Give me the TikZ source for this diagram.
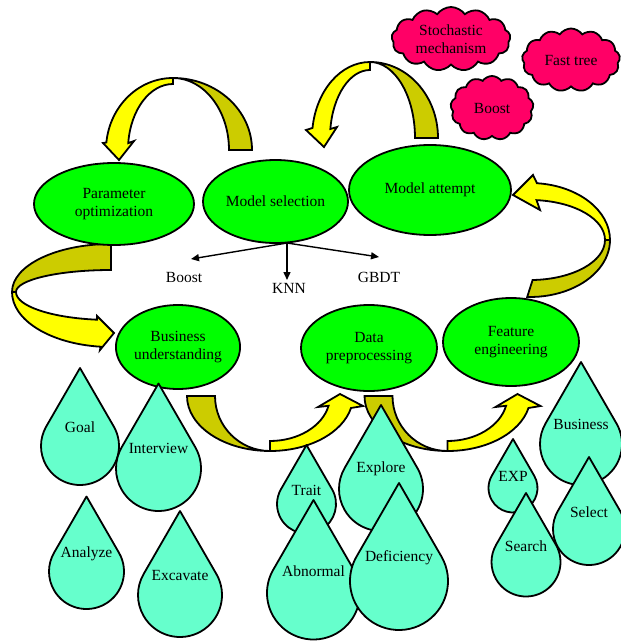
\documentclass[tikz,border=0pt]{standalone}
\usepackage{fontspec}
\setmainfont{Liberation Serif}
\usetikzlibrary{shapes.geometric,shapes.symbols,arrows.meta}
\definecolor{ellgreen}{RGB}{0,255,0}
\definecolor{arryellow}{RGB}{255,255,0}
\definecolor{arrolive}{RGB}{204,204,0}
\definecolor{dropaqua}{RGB}{102,255,204}
\definecolor{cloudpink}{RGB}{255,0,102}
\tikzset{
  every node/.style={font=\fontsize{15.5}{18}\selectfont},
  stage/.style={ellipse, draw, line width=1.8pt, fill=ellgreen, inner sep=0pt, align=center},
  idea/.style={cloud, cloud puffs=13, cloud puff arc=110, cloud ignores aspect, draw, line width=1.8pt, fill=cloudpink, inner sep=0pt},
  dropshape/.style={draw, line width=1.8pt, fill=dropaqua, line join=round},
  plaintext/.style={inner sep=0pt, align=center},
  bandback/.style={draw, line width=1.8pt, fill=arrolive, line join=miter},
  bandfront/.style={draw, line width=1.8pt, fill=arryellow, line join=miter},
  branch/.style={line width=1.4pt, -{Triangle[length=8pt,width=7pt]}}
}
% #1 name, #2 centre x, #3 centre y (downwards), #4 radius, #5 text
\newcommand{\wdrop}[5]{%
  \draw[dropshape] (#2,{-#3+2*#4}) -- ({#2+0.866*#4},{-#3+0.5*#4})
     arc[start angle=30,end angle=-210,radius=#4pt] -- cycle;
  \node[plaintext] (#1) at (#2,{-#3+0.47*#4}) {#5};}
% curved up arrow, #1 = centre x
\newcommand{\uarrow}[1]{%
  \draw[bandback] ({#1-83},-396) arc[start angle=180,end angle=270,x radius=83pt,y radius=55pt]
     arc[start angle=270,end angle=180,x radius=55pt,y radius=55pt] -- cycle;
  \draw[bandfront] (#1,-451) arc[start angle=270,end angle=347.4,x radius=83pt,y radius=55pt]
     -- ({#1+93},-406) -- ({#1+70},-394) -- ({#1+48},-407) -- ({#1+58.55},-405.8)
     arc[start angle=347.4,end angle=270,x radius=60pt,y radius=45pt] -- cycle;}
\begin{document}
\begin{tikzpicture}[x=1pt,y=1pt]
\useasboundingbox (0,0) rectangle (621,-643);

% top-left curved arrow
\draw[bandfront] (173,-78) arc[start angle=90,end angle=174,x radius=67pt,y radius=72pt]
  -- (103,-143) -- (119,-160) -- (134,-141) -- (128.25,-143.1)
  arc[start angle=174,end angle=90,x radius=45pt,y radius=66pt] -- cycle;
\draw[bandback] (252,-150) arc[start angle=0,end angle=90,x radius=79pt,y radius=72pt]
  arc[start angle=90,end angle=0,x radius=56pt,y radius=72pt] -- cycle;

% top-right curved arrow
\draw[bandfront] (370,-62) arc[start angle=90,end angle=172.4,x radius=58pt,y radius=76pt]
  -- (306,-130) -- (324,-147) -- (337,-127) -- (330.35,-129)
  arc[start angle=172.4,end angle=90,x radius=40pt,y radius=68pt] -- cycle;
\draw[bandback] (438,-138) arc[start angle=0,end angle=90,x radius=68pt,y radius=76pt]
  arc[start angle=90,end angle=0,x radius=45pt,y radius=76pt] -- cycle;

% left curved arrow
\draw[bandback] (111,-244) arc[start angle=90,end angle=180,x radius=99pt,y radius=48pt]
  -- (16,-292) arc[start angle=180,end angle=90,x radius=95pt,y radius=22pt] -- cycle;
\draw[bandfront] (12,-292) arc[start angle=180,end angle=264,x radius=99pt,y radius=55pt]
  -- (100,-350) -- (114,-333) -- (97,-316) -- (96.96,-319.7)
  arc[start angle=261.5,end angle=180,x radius=95pt,y radius=28pt] -- cycle;

% right curved arrow
\draw[bandback] (610,-240) arc[start angle=360,end angle=268,x radius=80pt,y radius=57pt]
  -- (532.6,-280) arc[start angle=272,end angle=360,x radius=75pt,y radius=40pt] -- cycle;
\draw[bandfront] (536.97,-183.22) arc[start angle=85,end angle=0,x radius=80pt,y radius=57pt]
  -- (605,-240) arc[start angle=0,end angle=85,x radius=75pt,y radius=40pt]
  -- (540,-210) -- (513,-195) -- (533,-175) -- cycle;

% bottom curved arrows
\uarrow{270}
\uarrow{447.5}

% stages
\node[stage, minimum width=160pt, minimum height=82pt] (po) at (114,-204) {Parameter\\optimization};
\node[stage, minimum width=145pt, minimum height=83pt] (ms) at (275.5,-201.5) {Model selection};
\node[stage, minimum width=162pt, minimum height=90pt] (ma) at (430,-190) {Model attempt};
\node[stage, minimum width=124pt, minimum height=84pt] (bu) at (178,-347) {Business\\understanding};
\node[stage, minimum width=136pt, minimum height=86pt] (dp) at (369,-348) {Data\\preprocessing};
\node[stage, minimum width=136pt, minimum height=88pt] (fe) at (511,-342) {Feature\\engineering};

% model branches
\node[plaintext] (boost) at (184,-277) {Boost};
\node[plaintext] (knn) at (289,-288) {KNN};
\node[plaintext] (gbdt) at (379,-277) {GBDT};
\coordinate (fork) at (287,-243);
\coordinate (boostend) at (191,-259);
\coordinate (knnend) at (287,-280);
\coordinate (gbdtend) at (379,-257);
\draw[branch] (fork) -- (boostend);
\draw[branch] (fork) -- (knnend);
\draw[branch] (fork) -- (gbdtend);

% drops
\wdrop{goal}{80}{446}{39}{Goal}
\wdrop{interview}{158.5}{468.5}{42.5}{Interview}
\wdrop{analyze}{86.5}{571.5}{37.5}{Analyze}
\wdrop{excavate}{180}{595}{42}{Excavate}
\wdrop{trait}{306.5}{504}{29.5}{Trait}
\wdrop{explore}{381}{489}{42}{Explore}
\wdrop{abnormal}{313.5}{593}{46.5}{Abnormal}
\wdrop{deficiency}{399}{581}{49}{Deficiency}
\wdrop{exp}{513}{488}{24.5}{EXP}
\wdrop{search}{526}{562}{34.5}{Search}
\wdrop{business}{581}{444}{41}{Business}
\wdrop{select}{589}{529}{36}{Select}

% clouds
\node[idea, minimum width=119pt, minimum height=64pt] (stoch) at (451,-39) {};
\node[plaintext] (stochtext) at (stoch) {Stochastic\\mechanism};
\node[idea, minimum width=98pt, minimum height=63pt] (fast) at (571,-60) {};
\node[plaintext] (fasttext) at (fast) {Fast tree};
\node[idea, minimum width=83pt, minimum height=64pt] (boostc) at (492,-108) {};
\node[plaintext] (boostctext) at (boostc) {Boost};
\end{tikzpicture}
\end{document}
